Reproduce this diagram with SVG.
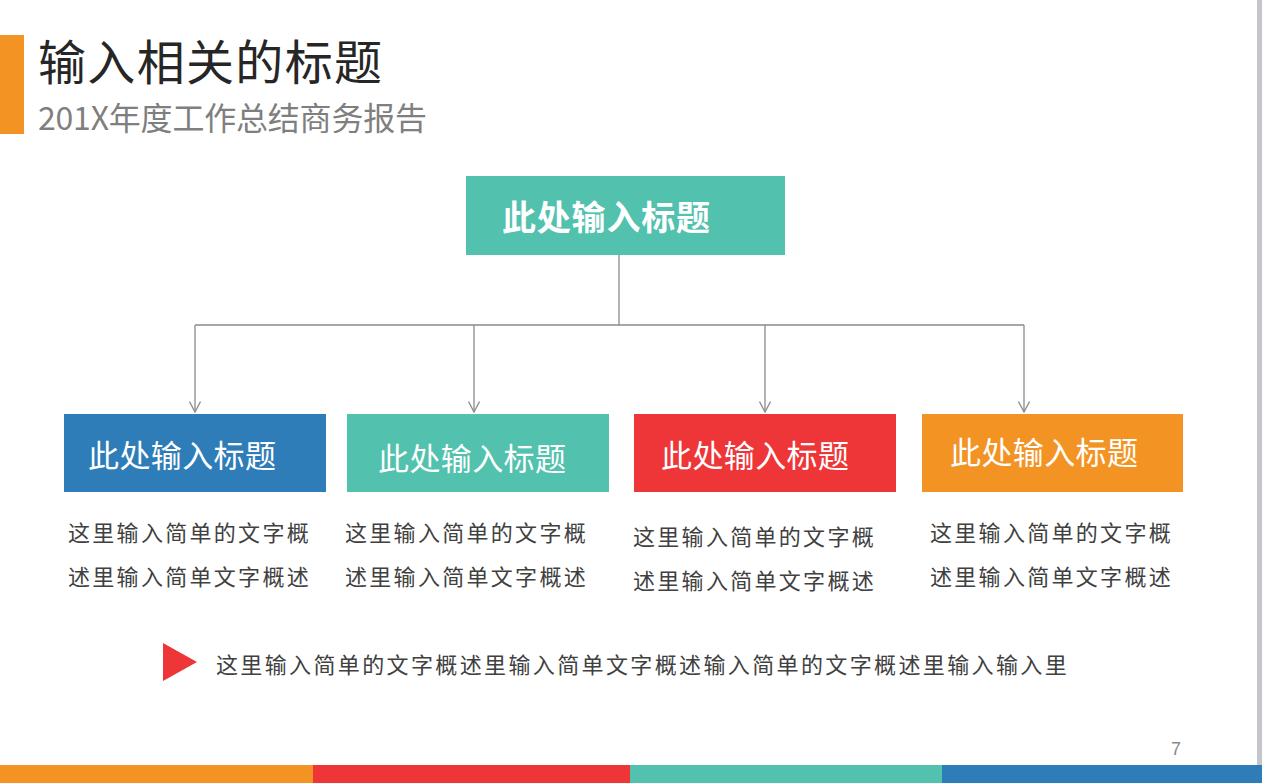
<svg xmlns="http://www.w3.org/2000/svg" width="1262" height="783" viewBox="0 0 1262 783">
<style>
.cjk{font-family:"Noto Sans CJK SC","Noto Sans",sans-serif;}
.box{font-family:"Noto Sans CJK SC",sans-serif;fill:#fff;font-size:31px;}
.desc{font-family:"Noto Sans CJK SC",sans-serif;fill:#404040;font-size:22px;letter-spacing:2.3px;}
.conn{stroke:#8a8a8a;stroke-width:1.3;fill:none;}
</style>
<defs>
<marker id="arr" viewBox="0 0 12 12" refX="11" refY="6" markerWidth="12" markerHeight="12" markerUnits="userSpaceOnUse" orient="auto">
<path d="M0.5,0.5 L11,6 L0.5,11.5" fill="none" stroke="#8a8a8a" stroke-width="1.3"/>
</marker>
</defs>
<rect width="1262" height="783" fill="#fff"/>
<rect x="1257" y="0" width="5" height="765" fill="#c4c6cc"/>
<g id="header">
<rect x="0" y="35" width="24" height="99" fill="#f39323"/>
<text class="cjk" x="38" y="80" font-size="48" fill="#262626" textLength="344" lengthAdjust="spacing">输入相关的标题</text>
<text class="cjk" x="38" y="130" font-size="32" fill="#7f7f7f" textLength="389" lengthAdjust="spacing">201X年度工作总结商务报告</text>
</g>
<g id="connectors">
<path class="conn" d="M619,255 V325 M195,325 H1024"/>
<path class="conn" d="M195,325 V412" marker-end="url(#arr)"/>
<path class="conn" d="M474,325 V412" marker-end="url(#arr)"/>
<path class="conn" d="M765,325 V412" marker-end="url(#arr)"/>
<path class="conn" d="M1024,325 V412" marker-end="url(#arr)"/>
</g>
<g id="root">
<rect x="466" y="176" width="319" height="79" fill="#52c1ad"/>
<text x="502" y="230" font-family="Noto Sans CJK SC,sans-serif" font-weight="bold" font-size="34" fill="#fff" textLength="208">此处输入标题</text>
</g>
<g id="node1">
<rect x="64" y="414" width="262" height="78" fill="#2e7db8"/>
<text class="box" x="88" y="467" textLength="188">此处输入标题</text>
<text class="desc" x="68" y="541">这里输入简单的文字概</text>
<text class="desc" x="68" y="585">述里输入简单文字概述</text>
</g>
<g id="node2">
<rect x="347" y="414" width="262" height="78" fill="#52c1ad"/>
<text class="box" x="378" y="470" textLength="188">此处输入标题</text>
<text class="desc" x="345" y="541">这里输入简单的文字概</text>
<text class="desc" x="345" y="585">述里输入简单文字概述</text>
</g>
<g id="node3">
<rect x="634" y="414" width="262" height="78" fill="#ee3538"/>
<text class="box" x="661" y="467" textLength="188">此处输入标题</text>
<text class="desc" x="633" y="545">这里输入简单的文字概</text>
<text class="desc" x="633" y="589">述里输入简单文字概述</text>
</g>
<g id="node4">
<rect x="922" y="414" width="261" height="78" fill="#f39323"/>
<text class="box" x="950" y="464" textLength="188">此处输入标题</text>
<text class="desc" x="930" y="541">这里输入简单的文字概</text>
<text class="desc" x="930" y="585">述里输入简单文字概述</text>
</g>
<g id="note">
<polygon points="163,643 197,662 163,681" fill="#ee3538"/>
<text class="desc" x="216" y="673" textLength="853" lengthAdjust="spacing">这里输入简单的文字概述里输入简单文字概述输入简单的文字概述里输入输入里</text>
</g>
<g id="footer">
<text x="1171" y="755" font-family="Liberation Sans,sans-serif" font-size="18" fill="#8a8a8a">7</text>
<rect x="0" y="765" width="313" height="18" fill="#f39323"/>
<rect x="313" y="765" width="317" height="18" fill="#ee3538"/>
<rect x="630" y="765" width="312" height="18" fill="#52c1ad"/>
<rect x="942" y="765" width="320" height="18" fill="#2e7db8"/>
</g>
</svg>
